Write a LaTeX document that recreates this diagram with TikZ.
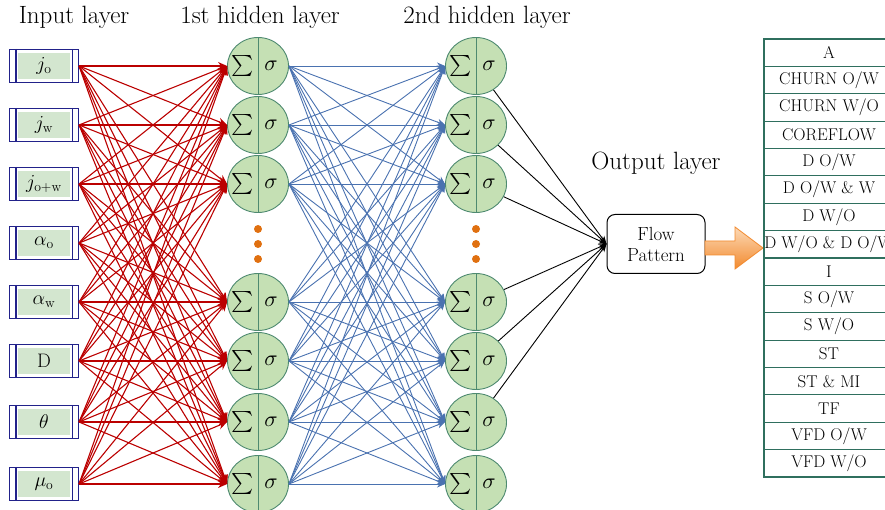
\documentclass[tikz,border=0pt]{standalone}
\usepackage{fontspec}
\usepackage{graphicx}
\usetikzlibrary{shapes.geometric,arrows.meta,calc}
\definecolor{redc}{HTML}{BB0000}
\definecolor{bluec}{HTML}{4A72B0}
\definecolor{nodefill}{HTML}{C5E0B4}
\definecolor{nodedraw}{HTML}{4E8A70}
\definecolor{inbord}{HTML}{22228A}
\definecolor{infill}{HTML}{D3E6CF}
\definecolor{tabline}{HTML}{2F6F5E}
\definecolor{dotc}{HTML}{E07010}
\definecolor{orL}{HTML}{FCD9B6}
\definecolor{orD}{HTML}{F28A2E}
\tikzset{
  neuron/.style={ellipse, minimum width=61pt, minimum height=57pt, inner sep=0pt, fill=nodefill, draw=nodedraw, line width=0.9pt},
  inbox/.style={rectangle, minimum width=69pt, minimum height=33pt, inner sep=0pt, draw=inbord, line width=1.1pt, fill=white},
  inlabel/.style={inner sep=0pt, font=\fontsize{17}{19}\selectfont},
  redlink/.style={draw=redc, line width=1.1pt, -{Stealth[length=9pt,width=8pt]}},
  bluelink/.style={draw=bluec, line width=0.9pt, -{Stealth[length=8pt,width=7pt]}},
  blacklink/.style={draw=black, line width=0.9pt, -{Stealth[length=8pt,width=6pt]}},
  title/.style={inner sep=0pt, font=\fontsize{25}{27}\selectfont},
  dotn/.style={circle, fill=dotc, minimum size=8pt, inner sep=0pt},
  tabrow/.style={rectangle, draw=tabline, line width=1.1pt, minimum width=130pt, minimum height=27.375pt, inner sep=0pt, font=\fontsize{17}{19}\selectfont},
  flowbox/.style={draw=black, line width=1pt, rounded corners=8pt, minimum width=98pt, minimum height=59pt, align=center, inner sep=0pt, font=\fontsize{19}{21}\selectfont},
  sumlab/.style={inner sep=0pt},
  siglab/.style={inner sep=0pt},
}
\newcommand{\bigsum}{\scalebox{2.1}{$\textstyle\sum$}}
\newcommand{\bigsig}{\scalebox{2.2}{$\sigma$}}
\newcommand{\inscale}[1]{\scalebox{1.15}{#1}}
\begin{document}
\begin{tikzpicture}[x=1pt,y=-1pt]
\useasboundingbox (0,0) rectangle (885,510);
% titles
\node[title] (t1) at (74,17) {Input layer};
\node[title] (t2) at (260,17) {1st hidden layer};
\node[title] (t3) at (487,17) {2nd hidden layer};
\node[title] (t4) at (656,163) {Output layer};
% input boxes
\foreach \y/\lab [count=\i from 0] in {66/{$j_{\mathrm{o}}$},125/{$j_{\mathrm{w}}$},184/{$j_{\mathrm{o+w}}$},243/{$\alpha_{\mathrm{o}}$},302/{$\alpha_{\mathrm{w}}$},361/{D},422/{$\theta$},484/{$\mu_{\mathrm{o}}$}}{
  \node[inbox] (in\i) at (44,\y) {};
  \fill[infill] ($(in\i.west)+(9,-13)$) rectangle ($(in\i.east)+(-9,13)$);
  \draw[inbord, line width=1.1pt] ($(in\i.north west)+(7,0)$) -- ($(in\i.south west)+(7,0)$);
  \draw[inbord, line width=1.1pt] ($(in\i.north east)+(-7,0)$) -- ($(in\i.south east)+(-7,0)$);
  \node[inlabel] (inl\i) at (in\i) {\inscale{\lab}};
}
% hidden layers
\foreach \y [count=\k from 0] in {66,125,184,302,361,422,484}{
  \node[neuron] (h\k) at (258,\y) {};
  \draw[nodedraw, line width=0.9pt] (h\k.north) -- (h\k.south);
  \node[sumlab] (hs\k) at ($(h\k)+(-15,0)$) {\bigsum};
  \node[siglab] (ho\k) at ($(h\k)+(13,0)$) {\bigsig};
  \node[neuron] (g\k) at (476,\y) {};
  \draw[nodedraw, line width=0.9pt] (g\k.north) -- (g\k.south);
  \node[sumlab] (gs\k) at ($(g\k)+(-15,0)$) {\bigsum};
  \node[siglab] (go\k) at ($(g\k)+(13,0)$) {\bigsig};
}
% dots
\foreach \y [count=\d from 0] in {229,244,259}{
  \node[dotn] (da\d) at (258,\y) {};
  \node[dotn] (db\d) at (476,\y) {};
}
% flow pattern
\node[flowbox] (fp) at (656,244) {Flow\\Pattern};
% links
\foreach \i in {0,...,7}{
  \foreach \k in {0,...,6}{
    \draw[redlink] (in\i.east) -- (h\k.west);
  }
}
\foreach \i in {0,...,6}{
  \foreach \k in {0,...,6}{
    \draw[bluelink] (h\i.east) -- (g\k.west);
  }
}
\foreach \k in {0,...,5}{
  \draw[blacklink] (g\k) -- (fp.west);
}
% orange arrow
\shade[top color=orL, bottom color=orD, draw=orD, line width=0.8pt]
  (705,241) -- (735,241) -- (735,227) -- (763,248) -- (735,269) -- (735,255) -- (705,255) -- cycle;
% table
\foreach \lab [count=\r from 0] in {A,CHURN O/W,CHURN W/O,COREFLOW,D O/W,D O/W \& W,D W/O,D W/O \& D O/W,I,S O/W,S W/O,ST,ST \& MI,TF,VFD O/W,VFD W/O}{
  \node[tabrow] (r\r) at (829,{39+27.375*(\r+0.5)}) {\lab};
}
\end{tikzpicture}
\end{document}
